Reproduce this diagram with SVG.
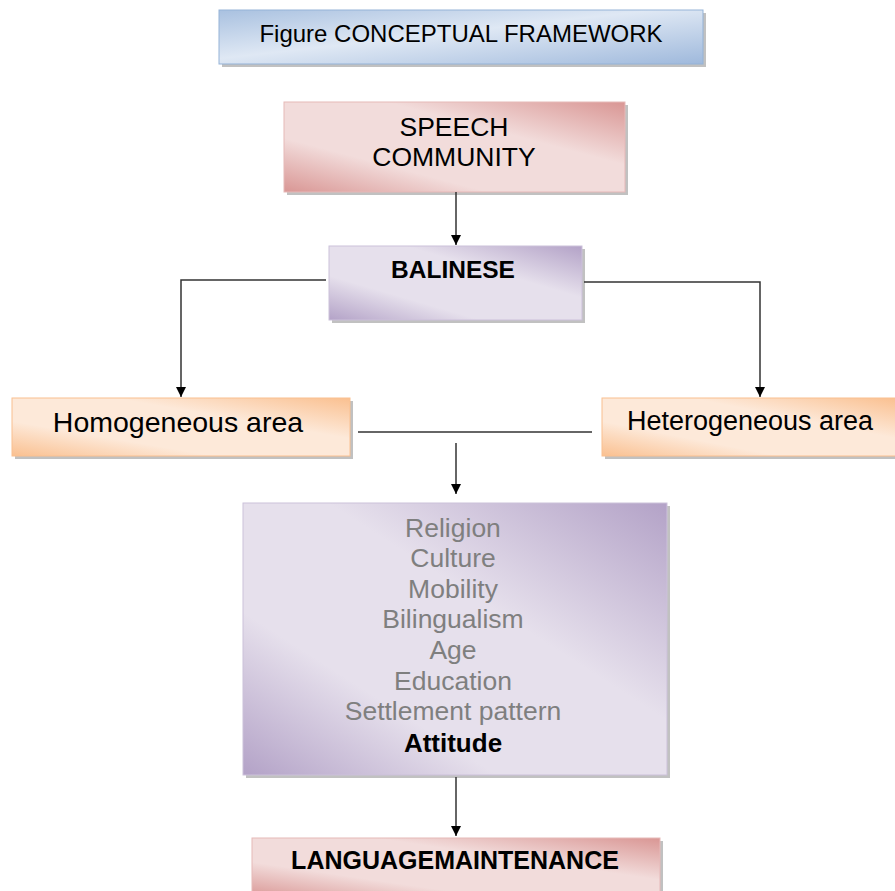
<svg xmlns="http://www.w3.org/2000/svg" width="895" height="891" viewBox="0 0 895 891">
<defs>
<linearGradient id="gBlue" x1="0" y1="0" x2="1" y2="1">
<stop offset="0" stop-color="#a9c1e0"/><stop offset="0.45" stop-color="#dfe8f4"/><stop offset="1" stop-color="#9fb9dc"/>
</linearGradient>
<linearGradient id="gRed" x1="0" y1="1" x2="1" y2="0">
<stop offset="0" stop-color="#d99694"/><stop offset="0.3" stop-color="#f2dcdb"/><stop offset="0.65" stop-color="#f2dcdb"/><stop offset="1" stop-color="#d99694"/>
</linearGradient>
<linearGradient id="gPurple" x1="0" y1="1" x2="1" y2="0">
<stop offset="0" stop-color="#b3a2c7"/><stop offset="0.3" stop-color="#e6e0ec"/><stop offset="0.65" stop-color="#e6e0ec"/><stop offset="1" stop-color="#b3a2c7"/>
</linearGradient>
<linearGradient id="gPurple2" x1="0" y1="1" x2="1" y2="0">
<stop offset="0" stop-color="#b3a2c7"/><stop offset="0.3" stop-color="#e6e0ec"/><stop offset="0.6" stop-color="#e6e0ec"/><stop offset="1" stop-color="#b3a2c7"/>
</linearGradient>
<linearGradient id="gOrange" x1="0" y1="1" x2="1" y2="0">
<stop offset="0" stop-color="#fac090"/><stop offset="0.3" stop-color="#fde9d9"/><stop offset="0.65" stop-color="#fde9d9"/><stop offset="1" stop-color="#fac090"/>
</linearGradient>
<marker id="arr" viewBox="0 0 10 10" refX="10" refY="5" markerWidth="10" markerHeight="10" markerUnits="userSpaceOnUse" orient="auto">
<path d="M0,0 L10,5 L0,10 z" fill="#000"/>
</marker>
<style>
.shadow{fill:#a6a6a6;opacity:0.7}
.t{font-family:"Liberation Sans",Arial,sans-serif;fill:#000;text-anchor:middle}
.f{font-family:"Liberation Sans",Arial,sans-serif;fill:#7f7f7f;text-anchor:middle;font-size:26.5px}
.ln{stroke:#333;stroke-width:1.5;fill:none}
</style>
</defs>
<rect width="895" height="891" fill="#fff"/>

<g id="title">
<rect class="shadow" x="222" y="13" width="484" height="54"/>
<rect x="219" y="10" width="484" height="54" fill="url(#gBlue)" stroke="#95b3d7" stroke-width="1"/>
<text class="t" x="461" y="42" font-size="24">Figure CONCEPTUAL FRAMEWORK</text>
</g>

<g id="speech">
<rect class="shadow" x="287" y="105" width="341" height="90"/>
<rect x="284" y="102" width="341" height="90" fill="url(#gRed)" stroke="#e6b9b8" stroke-width="1"/>
<text class="t" x="454" y="136" font-size="26.5">SPEECH</text>
<text class="t" x="454" y="166" font-size="26.5">COMMUNITY</text>
</g>

<g id="balinese">
<rect class="shadow" x="332" y="249" width="253" height="74"/>
<rect x="329" y="246" width="253" height="74" fill="url(#gPurple)" stroke="#ccc1da" stroke-width="1"/>
<text class="t" x="453" y="278" font-size="24.5" font-weight="bold">BALINESE</text>
</g>

<g id="homogeneous">
<rect class="shadow" x="15" y="401" width="338" height="58"/>
<rect x="12" y="398" width="338" height="58" fill="url(#gOrange)" stroke="#fac090" stroke-width="1"/>
<text class="t" x="178" y="432" font-size="28.5">Homogeneous area</text>
</g>

<g id="heterogeneous">
<rect class="shadow" x="605" y="401" width="295" height="58"/>
<rect x="602" y="398" width="295" height="58" fill="url(#gOrange)" stroke="#fac090" stroke-width="1"/>
<text class="t" x="750" y="430" font-size="27">Heterogeneous area</text>
</g>

<g id="factors">
<rect class="shadow" x="246" y="506" width="424" height="272"/>
<rect x="243" y="503" width="424" height="272" fill="url(#gPurple2)" stroke="#ccc1da" stroke-width="1"/>
<text class="f" x="453" y="537">Religion</text>
<text class="f" x="453" y="567">Culture</text>
<text class="f" x="453" y="598">Mobility</text>
<text class="f" x="453" y="628">Bilingualism</text>
<text class="f" x="453" y="659">Age</text>
<text class="f" x="453" y="690">Education</text>
<text class="f" x="453" y="720">Settlement pattern</text>
<text class="t" x="453" y="752" font-size="26" font-weight="bold">Attitude</text>
</g>

<g id="maintenance">
<rect class="shadow" x="255" y="841" width="408" height="60"/>
<rect x="252" y="838" width="408" height="60" fill="url(#gRed)" stroke="#e6b9b8" stroke-width="1"/>
<text class="t" x="455" y="869" font-size="25" font-weight="bold">LANGUAGEMAINTENANCE</text>
</g>

<g id="connectors">
<line class="ln" x1="456" y1="192" x2="456" y2="245" marker-end="url(#arr)"/>
<polyline class="ln" points="326,280 181,280 181,397" marker-end="url(#arr)"/>
<polyline class="ln" points="584,282 760,282 760,397" marker-end="url(#arr)"/>
<line class="ln" x1="358" y1="432" x2="592" y2="432"/>
<line class="ln" x1="456" y1="443" x2="456" y2="494" marker-end="url(#arr)"/>
<line class="ln" x1="456" y1="777" x2="456" y2="836" marker-end="url(#arr)"/>
</g>
</svg>
